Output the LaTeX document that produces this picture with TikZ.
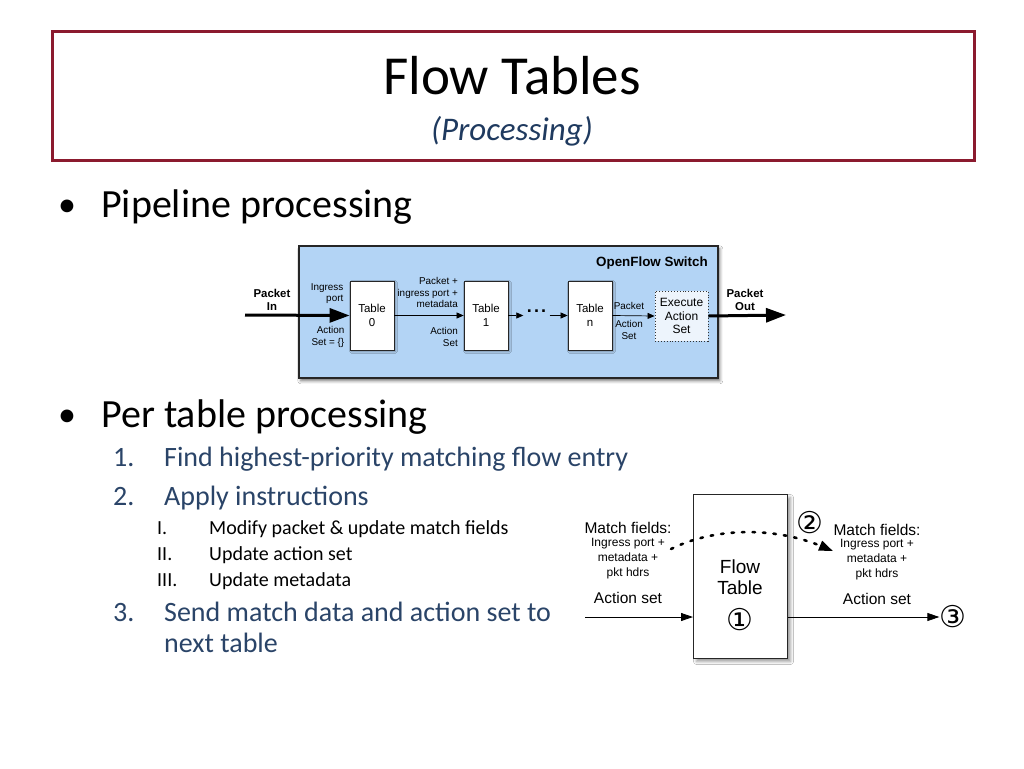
\documentclass[tikz,border=0pt]{standalone}
\usepackage{fontspec}
\setmainfont{Carlito}
\newfontfamily\helv{Liberation Sans}
\newfontfamily\djv{DejaVu Sans}
\usetikzlibrary{arrows.meta,shadows.blur}
\definecolor{titlered}{HTML}{8B1A2E}
\definecolor{subblue}{HTML}{1F3A5F}
\definecolor{itemblue}{HTML}{2A4468}
\definecolor{switchblue}{HTML}{B3D4F5}
\definecolor{execfill}{HTML}{EDF4FC}
\newcommand\fsz[2]{\fontsize{#1}{#2}\selectfont}
\tikzset{
  txt/.style={inner sep=0pt, anchor=base west},
  lbl/.style={inner sep=0pt, align=right, anchor=east, font=\helv\fsz{9.9}{11.5}},
  clbl/.style={inner sep=0pt, align=center, font=\helv\fsz{9.9}{12}},
  tbl/.style={draw=black!85, line width=0.8pt, fill=white, minimum width=44pt, minimum height=69pt,
    align=center, font=\helv\fsz{11.5}{13.5}, blur shadow={shadow xshift=1.5pt, shadow yshift=-1.5pt, shadow blur steps=4}},
  thinarrow/.style={line width=0.7pt, -{Triangle[length=7pt,width=6pt]}},
  thickarrow/.style={line width=3pt, -{Triangle[length=20pt,width=14pt]}},
  bigbold/.style={inner sep=0pt, align=center, font=\helv\bfseries\fsz{11.4}{13.5}},
  mlbl/.style={inner sep=0pt, align=center, font=\helv\fsz{15.5}{18}},
  slbl/.style={inner sep=0pt, align=center, font=\helv\fsz{12}{15}},
  circ/.style={inner sep=0pt, font=\djv\fsz{30}{30}},
  ftarrow/.style={line width=0.8pt, -{Triangle[length=12pt,width=8pt]}}
}
\begin{document}
\begin{tikzpicture}[x=1pt,y=-1pt]
\useasboundingbox[fill=white] (0,0) rectangle (1024,768);
% title box
\node[draw=titlered, line width=3pt, minimum width=922pt, minimum height=129pt, anchor=north west, inner sep=0pt] (titlebox) at (51,30) {};
\node[inner sep=0pt, anchor=base, font=\fsz{55}{60}] (title) at (512,94) {Flow Tables};
\node[inner sep=0pt, anchor=base, font=\itshape\fsz{33}{36}, text=subblue] (subtitle) at (512,140) {(Processing)};
% bullets
\node[inner sep=0pt, anchor=base, font=\fsz{36}{44}] (b1) at (67,216) {\textbullet};
\node[txt, font=\fsz{40}{44}] (pipe) at (101,217) {Pipeline processing};
\node[inner sep=0pt, anchor=base, font=\fsz{36}{44}] (b2) at (67,426) {\textbullet};
\node[txt, font=\fsz{40}{44}] (pertable) at (101,427) {Per table processing};
% numbered items
\begin{scope}[every node/.append style={txt, font=\fsz{28}{32}, text=itemblue}]
\node (n1) at (113,466) {1.};
\node (i1) at (164,466) {Find highest-priority matching flow entry};
\node (n2) at (113,505) {2.};
\node (i2) at (164,505) {Apply instructions};
\node (n3) at (113,621) {3.};
\node (i3) at (164,621) {Send match data and action set to};
\node (i3b) at (164,652) {next table};
\end{scope}
\begin{scope}[every node/.append style={txt, font=\fsz{20}{24}}]
\node (r1) at (157,534) {I.};
\node (s1) at (209,534) {Modify packet \& update match fields};
\node (r2) at (157,560) {II.};
\node (s2) at (209,560) {Update action set};
\node (r3) at (157,586) {III.};
\node (s3) at (209,586) {Update metadata};
\end{scope}
% ===== OpenFlow switch pipeline =====
\node[draw=black!85, line width=1.6pt, fill=switchblue, minimum width=419pt, minimum height=132pt, anchor=north west, inner sep=0pt,
  blur shadow={shadow xshift=2pt, shadow yshift=-3pt, shadow blur radius=3pt, shadow opacity=55}] (sw) at (298,245) {};
\node[inner sep=0pt, anchor=east, font=\helv\bfseries\fsz{13.4}{15}] (swlabel) at (708,263) {OpenFlow Switch};
\node[tbl] (t0) at (372,315.5) {Table\\0};
\node[tbl] (t1) at (486,315.5) {Table\\1};
\node[tbl] (tn) at (590,315.5) {Table\\n};
\node[draw=black!80, dotted, line width=0.9pt, fill=execfill, minimum width=53pt, minimum height=50pt, inner sep=0pt,
  align=center, font=\helv\fsz{12}{13.5}] (ex) at (681.5,316) {Execute\\Action\\Set};
\node[inner sep=0pt, minimum width=26pt, font=\helv\bfseries\fsz{18}{18}] (dots) at (536.5,311) {.\hspace{2.2pt}.\hspace{2.2pt}.};
\node[bigbold] (pin) at (272,300) {Packet\\In};
\node[bigbold] (pout) at (745,300) {Packet\\Out};
\coordinate (pinstart) at (245,315);
\coordinate (poutend) at (786,315);
\node[lbl] (ing) at (343.5,293.5) {Ingress\\port};
\node[lbl] (as0) at (344.5,337) {Action\\Set = \{\}};
\node[lbl] (pk1) at (458,292.5) {Packet +\\ingress port +\\metadata};
\node[lbl] (as1) at (458,337) {Action\\Set};
\node[clbl] (pkn) at (629,306) {Packet};
\node[clbl] (asn) at (629,330) {Action\\Set};
\draw[thickarrow] (pinstart) -- (t0.west);
\draw[thinarrow] (t0.east) -- (t1.west);
\draw[thinarrow] (t1.east) -- (dots.west |- t1.east);
\draw[thinarrow] (dots.east |- tn.west) -- (tn.west);
\draw[thinarrow] (tn.east) -- (ex.west);
\draw[thickarrow] (ex.east) -- (poutend);
% ===== Flow table detail =====
\node[draw=black!85, line width=1pt, fill=white, minimum width=94pt, minimum height=164pt, anchor=north west, inner sep=0pt,
  blur shadow={shadow xshift=3pt, shadow yshift=-3pt, shadow blur radius=3pt}] (ft) at (693,494) {};
\node[inner sep=0pt, align=center, font=\helv\fsz{19}{21}] (ftlabel) at (740,577) {Flow\\Table};
\node[circ] (c1) at (740,620) {①};
\node[mlbl] (mfl) at (628,528) {Match fields:};
\node[slbl] (ipl) at (628,559) {Ingress port +\\metadata +\\pkt hdrs};
\node[mlbl] (asl) at (628,598) {Action set};
\node[mlbl] (mfr) at (877,530) {Match fields:};
\node[slbl] (ipr) at (877,560) {Ingress port +\\metadata +\\pkt hdrs};
\node[mlbl] (asr) at (877,599) {Action set};
\node[circ] (c2) at (810,523) {②};
\node[circ] (c3) at (953,617) {③};
\coordinate (inL) at (585,617);
\draw[ftarrow] (inL) -- (inL -| ft.west);
\draw[ftarrow] (inL -| ft.east) -- (c3.west);
\coordinate (cs) at (671,549);
\coordinate (ce) at (833,551);
\draw[line width=2.6pt, line cap=round, dash pattern=on 2.5pt off 8pt, -{Triangle[length=14pt,width=10pt]}]
  (cs) .. controls (715,527) and (775,527) .. (ce);
\end{tikzpicture}
\end{document}
